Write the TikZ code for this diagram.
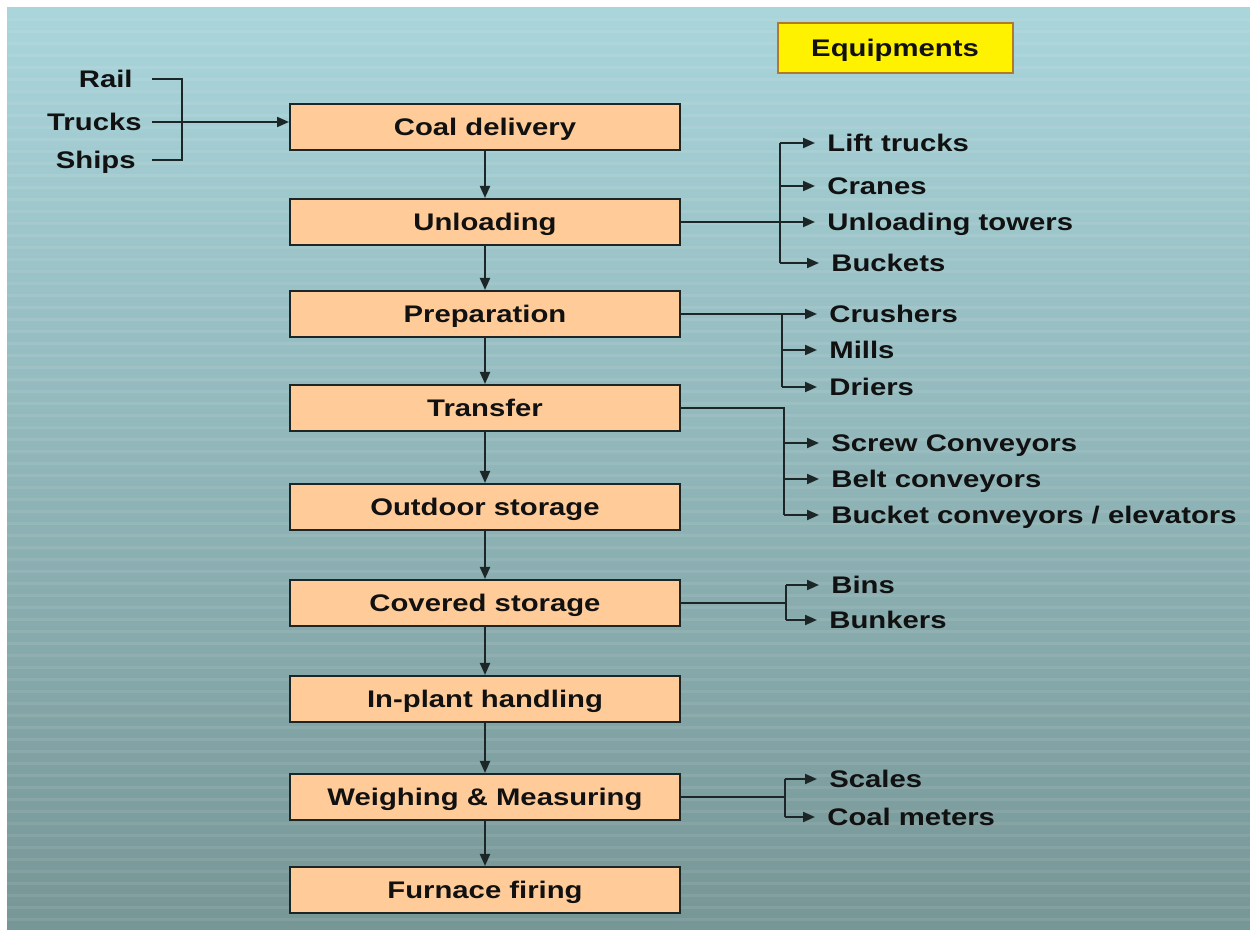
\documentclass[tikz,border=0pt]{standalone}
\usepackage{fontspec}
\setmainfont{Liberation Sans}[FakeStretch=1.22]
\usetikzlibrary{arrows.meta}

\definecolor{boxfill}{HTML}{FFCC99}
\definecolor{bgtop}{HTML}{A9D5DB}
\definecolor{bgmid}{HTML}{93BABE}
\definecolor{bgbot}{HTML}{779696}
\definecolor{linecol}{HTML}{1C2626}
\definecolor{txtcol}{HTML}{111111}
\definecolor{eqborder}{HTML}{B07A2A}

\tikzset{
  stage/.style={draw=linecol, line width=1pt, fill=boxfill, minimum width=195pt,
    minimum height=23pt, inner sep=0pt, text height=8.6pt, text depth=0pt,
    text=txtcol, font=\fontsize{12}{14}\selectfont\bfseries},
  item/.style={anchor=west, inner ysep=0pt, inner xsep=6pt, text height=8.6pt,
    text depth=0pt, text=txtcol, font=\fontsize{12}{14}\selectfont\bfseries},
  src/.style={anchor=east, inner sep=0pt, text height=8.6pt, text depth=0pt,
    text=txtcol, font=\fontsize{12}{14}\selectfont\bfseries},
  link/.style={draw=linecol, line width=1pt},
  flow/.style={link, -{Triangle[length=6pt,width=5pt]}},
}

\begin{document}
\begin{tikzpicture}[x=0.5pt,y=-0.5pt]
  \useasboundingbox (0,0) rectangle (1250,935);
  % background
  \shade[top color=bgtop, middle color=bgmid, bottom color=bgbot] (7,8) rectangle (1250,930);
  \foreach \y in {20,32,...,920}
    \draw[white, opacity=0.08, line width=1.5pt] (7,\y) -- (1250,\y);

  % stages
  \node[stage] (deliv) at (485,127) {Coal delivery};
  \node[stage] (unload) at (485,222) {Unloading};
  \node[stage] (prep) at (485,314) {Preparation};
  \node[stage] (transf) at (485,408) {Transfer};
  \node[stage] (outdoor) at (485,507) {Outdoor storage};
  \node[stage] (covered) at (485,603) {Covered storage};
  \node[stage] (inplant) at (485,699) {In-plant handling};
  \node[stage] (weigh) at (485,797) {Weighing \& Measuring};
  \node[stage] (furnace) at (485,890) {Furnace firing};
  \foreach \a/\b in {deliv/unload, unload/prep, prep/transf, transf/outdoor,
      outdoor/covered, covered/inplant, inplant/weigh, weigh/furnace}
    \draw[flow] (\a) -- (\b);

  % sources
  \node[src] (rail) at (133,79) {Rail};
  \node[src] (trucks) at (142,122) {Trucks};
  \node[src] (ships) at (136,160) {Ships};
  \coordinate (lstart) at (152,0);
  \coordinate (brk) at (182,0);
  \draw[link] (rail -| lstart) -| (ships -| brk) -- (ships -| lstart);
  \draw[flow] (trucks -| lstart) -- (trucks -| deliv.west);

  % equipments title
  \node[draw=eqborder, line width=1pt, fill=yellow, minimum width=117.5pt,
    minimum height=25pt, inner sep=0pt, text height=8.6pt, text depth=0pt,
    text=txtcol, font=\fontsize{12}{14}\selectfont\bfseries] (equip) at (895,48) {Equipments};

  % unloading equipment
  \node[item] (lift) at (815,143) {Lift trucks};
  \node[item] (cranes) at (815,186) {Cranes};
  \node[item] (towers) at (815,222) {Unloading towers};
  \node[item] (buckets) at (819,263) {Buckets};
  \coordinate (ubus) at (780,0);
  \draw[link] (unload.east) -- (towers -| ubus);
  \draw[link] (lift.west -| ubus) -- (buckets.west -| ubus);
  \foreach \n in {lift,cranes,towers,buckets}
    \draw[flow] (\n.west -| ubus) -- (\n.west);

  % preparation equipment
  \node[item] (crushers) at (817,314) {Crushers};
  \node[item] (mills) at (817,350) {Mills};
  \node[item] (driers) at (817,387) {Driers};
  \coordinate (pbus) at (782,0);
  \draw[link] (prep.east) -- (crushers -| pbus);
  \draw[link] (crushers.west -| pbus) -- (driers.west -| pbus);
  \foreach \n in {crushers,mills,driers}
    \draw[flow] (\n.west -| pbus) -- (\n.west);

  % transfer equipment
  \node[item] (screw) at (819,443) {Screw Conveyors};
  \node[item] (belt) at (819,479) {Belt conveyors};
  \node[item] (bucketconv) at (819,515) {Bucket conveyors / elevators};
  \coordinate (tbus) at (784,0);
  \draw[link] (transf.east) -| (bucketconv.west -| tbus);
  \foreach \n in {screw,belt,bucketconv}
    \draw[flow] (\n.west -| tbus) -- (\n.west);

  % storage equipment
  \node[item] (bins) at (819,585) {Bins};
  \node[item] (bunkers) at (817,620) {Bunkers};
  \coordinate (cbus) at (786,0);
  \draw[link] (covered.east) -- (covered.east -| cbus);
  \draw[link] (bins.west -| cbus) -- (bunkers.west -| cbus);
  \foreach \n in {bins,bunkers}
    \draw[flow] (\n.west -| cbus) -- (\n.west);

  % weighing equipment
  \node[item] (scales) at (817,779) {Scales};
  \node[item] (meters) at (815,817) {Coal meters};
  \coordinate (wbus) at (785,0);
  \draw[link] (weigh.east) -- (weigh.east -| wbus);
  \draw[link] (scales.west -| wbus) -- (meters.west -| wbus);
  \foreach \n in {scales,meters}
    \draw[flow] (\n.west -| wbus) -- (\n.west);
\end{tikzpicture}
\end{document}
